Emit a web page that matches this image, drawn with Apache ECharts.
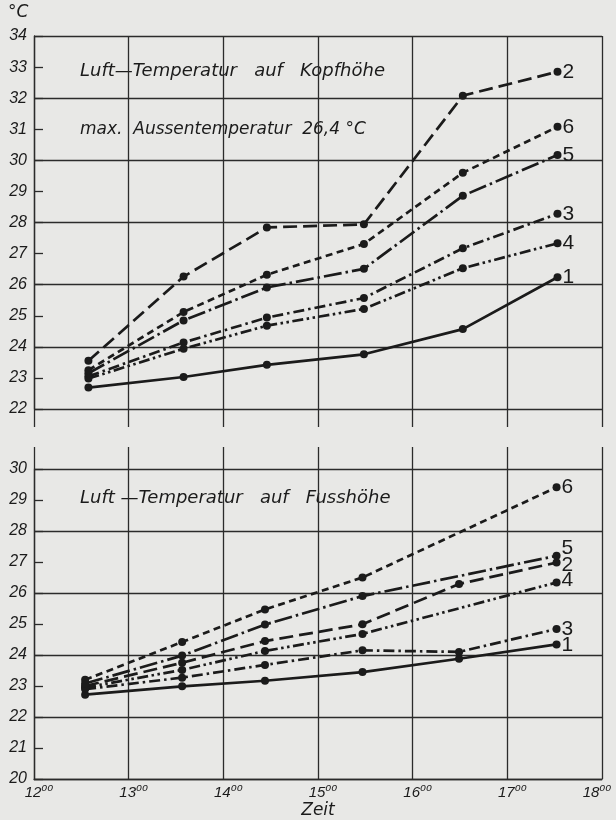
<!DOCTYPE html>
<html><head><meta charset="utf-8">
<script src="https://cdn.jsdelivr.net/npm/echarts@6/dist/echarts.min.js"></script>
<style>html,body{margin:0;padding:0;background:#e8e8e6}#c{width:616px;height:820px}</style>
</head><body><div id="c"></div>
<script>
// ---- data ----
const seriesNames = ['1', '2', '3', '4', '5', '6'];
const hourTicks = [12, 13, 14, 15, 16, 17, 18];
// Luft-Temperatur auf Kopfhöhe (top chart)
const timesHead = [12.575, 13.58, 14.46, 15.485, 16.53, 17.53];
const head1 = [22.69, 23.03, 23.42, 23.76, 24.57, 26.24];
const head2 = [23.55, 26.26, 27.84, 27.94, 32.08, 32.85];
const head3 = [23.05, 24.14, 24.94, 25.57, 27.17, 28.28];
const head4 = [22.98, 23.94, 24.68, 25.22, 26.53, 27.33];
const head5 = [23.15, 24.85, 25.91, 26.51, 28.86, 30.17];
const head6 = [23.25, 25.12, 26.32, 27.31, 29.60, 31.08];
// Luft-Temperatur auf Fusshöhe (bottom chart)
const timesFoot = [12.54, 13.565, 14.44, 15.47, 16.49, 17.52];
const foot1 = [22.72, 22.99, 23.17, 23.45, 23.88, 24.34];
const foot2 = [23.00, 23.75, 24.45, 24.99, 26.29, 26.98];
const foot3 = [22.90, 23.27, 23.68, 24.15, 24.10, 24.84];
const foot4 = [22.95, 23.52, 24.13, 24.68, null, 26.34];
const foot5 = [23.08, 23.98, 24.98, 25.90, null, 27.20];
const foot6 = [23.20, 24.42, 25.47, 26.50, null, 29.41];

const headSets = [head1, head2, head3, head4, head5, head6];
const footSets = [foot1, foot2, foot3, foot4, foot5, foot6];

// ---- styling ----
const INK = '#1b1b1b';
const GRID = '#2b2b2b';
const FONT = "'Liberation Sans', 'DejaVu Sans', sans-serif";
const TFONT = "'DejaVu Sans', 'Liberation Sans', sans-serif";
const dashStyles = {
  '1': 'solid',
  '2': [14, 6],
  '3': [11, 4, 2.5, 4],
  '4': [11, 3.5, 2.5, 3.5, 2.5, 3.5],
  '5': [18, 4, 2.5, 4],
  '6': [7, 4.5]
};
const footLabelOffset = {'1': [0, 1], '2': [0, 3], '3': [0, 0], '4': [0, -2], '5': [0, -8], '6': [0, 0]};

function pairs(times, vals) { return times.map((t, i) => [t, vals[i]]); }

function makeSeries(sets, times, xIdx, yIdx, offsets) {
  return sets.map((vals, k) => {
    const name = seriesNames[k];
    return {
      name: name, type: 'line', xAxisIndex: xIdx, yAxisIndex: yIdx,
      data: pairs(times, vals), connectNulls: true,
      symbol: 'circle', symbolSize: 8, showSymbol: true,
      itemStyle: {color: INK},
      lineStyle: {color: INK, width: 2.7, type: dashStyles[name]},
      endLabel: {show: true, formatter: name, color: INK, fontSize: 21,
        fontFamily: FONT, distance: 5, offset: offsets ? offsets[name] : [0, 0]},
      emphasis: {disabled: true}, z: 3
    };
  });
}

const hourLabel = v => {
  if (hourTicks.indexOf(v) < 0) return '';
  const core = '{n|' + v + '}{s|\u2070\u2070}';
  return v === hourTicks[hourTicks.length - 1] ? core + '{p| }' : '{p| }' + core;
};

const chart = echarts.init(document.getElementById('c'), null, {renderer: 'canvas'});
const gridLine = {show: true, lineStyle: {color: GRID, width: 1.3}};
const lblStyle = {color: INK, fontSize: 16, fontStyle: 'italic', fontFamily: FONT};

chart.setOption({
  backgroundColor: '#e8e8e6',
  animation: false,
  grid: [
    {left: 34, right: 14, top: 36, height: 373, containLabel: false, outerBoundsMode: 'none'},
    {left: 34, right: 14, top: 469, height: 310, containLabel: false, outerBoundsMode: 'none'}
  ],
  xAxis: [
    {gridIndex: 0, type: 'value', min: 12, max: 18, interval: 1,
      axisLine: {show: false}, axisLabel: {show: false},
      axisTick: {show: true, inside: false, length: 18, lineStyle: {color: GRID, width: 1.3}},
      splitLine: gridLine},
    {gridIndex: 1, type: 'value', min: 12, max: 18, interval: 1, position: 'bottom',
      axisLine: {show: true, lineStyle: {color: GRID, width: 1.3}},
      axisTick: {show: false},
      axisLabel: {margin: 6, formatter: hourLabel, hideOverlap: false,
        rich: {
          p: {width: 10, fontSize: 15, fontFamily: FONT},
          n: {color: INK, fontSize: 15, fontStyle: 'italic', fontFamily: FONT},
          s: {color: INK, fontSize: 15, fontStyle: 'italic', fontFamily: TFONT}
        }},
      splitLine: gridLine,
      name: 'Zeit', nameLocation: 'middle', nameGap: 23,
      nameTextStyle: {color: INK, fontSize: 17, fontStyle: 'italic', fontFamily: TFONT}},
    {gridIndex: 1, type: 'value', min: 12, max: 18, interval: 1, position: 'top',
      axisLine: {show: false}, axisLabel: {show: false},
      axisTick: {show: true, inside: false, length: 22, lineStyle: {color: GRID, width: 1.3}},
      splitLine: {show: false}}
  ],
  yAxis: [
    {gridIndex: 0, type: 'value', min: 22, max: 34, interval: 2,
      axisLine: {show: true, lineStyle: {color: GRID, width: 1.3}},
      axisTick: {show: false}, axisLabel: {show: false}, splitLine: gridLine},
    {gridIndex: 0, type: 'value', min: 22, max: 34, interval: 1, position: 'left',
      axisLine: {show: false},
      axisTick: {show: true, inside: true, length: 9, lineStyle: {color: GRID, width: 1.3}},
      axisLabel: Object.assign({margin: 7}, lblStyle),
      splitLine: {show: false}},
    {gridIndex: 1, type: 'value', min: 20, max: 30, interval: 2,
      axisLine: {show: true, lineStyle: {color: GRID, width: 1.3}},
      axisTick: {show: false}, axisLabel: {show: false}, splitLine: gridLine},
    {gridIndex: 1, type: 'value', min: 20, max: 30, interval: 1, position: 'left',
      axisLine: {show: false},
      axisTick: {show: true, inside: true, length: 9, lineStyle: {color: GRID, width: 1.3}},
      axisLabel: Object.assign({margin: 7}, lblStyle),
      splitLine: {show: false}}
  ],
  graphic: [
    {type: 'text', left: 8, top: 4, style: {text: '°C', fill: INK, font: 'italic 17px ' + TFONT}},
    {type: 'text', left: 80, top: 62, style: {text: 'Luft\u2014Temperatur   auf   Kopfhöhe', fill: INK, font: 'italic 18px ' + TFONT}},
    {type: 'text', left: 80, top: 121, style: {text: 'max.  Aussentemperatur  26,4 °C', fill: INK, font: 'italic 17px ' + TFONT}},
    {type: 'text', left: 80, top: 489, style: {text: 'Luft \u2014Temperatur   auf   Fusshöhe', fill: INK, font: 'italic 18px ' + TFONT}}
  ],
  series: makeSeries(headSets, timesHead, 0, 0, null)
    .concat(makeSeries(footSets, timesFoot, 1, 2, footLabelOffset))
});
</script></body></html>
